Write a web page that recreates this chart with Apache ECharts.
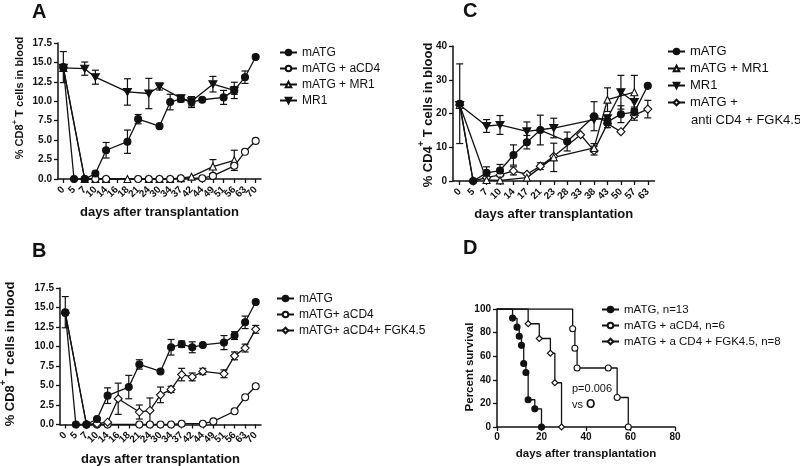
<!DOCTYPE html>
<html>
<head>
<meta charset="utf-8">
<title>T cells after transplantation</title>
<script src="https://cdn.jsdelivr.net/npm/echarts@6/dist/echarts.min.js"></script>
<style>
html, body { margin: 0; padding: 0; background: #fff; }
#chart { width: 800px; height: 466px; }
</style>
</head>
<body>
<div id="chart"></div>
<script>
// A + B: CD8+ T cells, days share one axis
const daysAB = ['0', '5', '7', '10', '14', '16', '18', '21', '24', '30', '34', '37', '42', '44', '49', '51', '56', '63', '70'];
const cd8_mATG = [14.4, 0, 0, 0.7, 3.7, null, 4.8, 7.7, null, 6.8, 9.9, 10.3, 9.9, 10.2, null, 10.5, 11.4, 13.1, 15.7];
const cd8_mATG_err = [2.0, null, null, null, 1.0, null, 1.5, 0.6, null, null, 1.0, 0.4, 0.7, null, null, 0.9, 0.5, 0.8, null];
const cd8_aCD4 = [14.3, null, 0, 0, 0, null, null, 0, 0, 0, 0, 0.1, null, 0.1, 0.4, null, 1.7, 3.5, 4.9];
const cd8_mATG_MR1 = [14.3, null, 0, 0, 0, null, 0, null, 0, 0, 0, 0.1, 0.3, null, 1.6, null, 2.4, null, null];
const cd8_mATG_MR1_err = [null, null, null, null, null, null, null, null, null, null, null, null, null, null, 0.9, null, 1.3, null, null];
const cd8_MR1 = [14.3, null, 14.2, 13.1, null, null, 11.2, null, 11.0, 11.9, null, 10.4, 10.0, null, 12.2, null, 11.4, null, null];
const cd8_MR1_err = [null, null, 0.85, 0.9, null, null, 1.7, null, 1.95, 0.45, null, 0.4, 0.6, null, 1.0, null, 1.05, null, null];
const cd8_FGK = [14.3, null, 0, 0.1, 0.3, 3.3, null, 1.6, 1.8, 3.8, 4.5, 6.4, 6.1, 6.8, null, 6.5, 8.8, 9.8, 12.2];
const cd8_FGK_err = [null, null, null, null, null, 2.0, null, 0.9, 1.6, 1.0, 0.4, 0.8, 0.5, 0.4, null, 0.5, 0.5, 0.5, 0.5];

// C: CD4+ T cells
const daysC = ['0', '5', '7', '10', '14', '17', '21', '23', '28', '33', '38', '43', '50', '57', '63'];
const cd4_mATG = [22.9, 0, 2.4, 3.1, 7.7, 11.5, 15.1, null, 11.7, null, 19.2, 17.5, 19.8, 20.4, 28.2];
const cd4_mATG_err = [11.8, null, 1.8, 1.8, 3.0, 2.0, 4.4, null, 2.8, null, 4.3, 1.0, 2.5, 1.5, null];
const cd4_mATG_MR1 = [22.5, null, 0.3, 0.2, null, 1.0, null, 7.0, null, null, 9.8, 24.1, null, 26.3, null];
const cd4_mATG_MR1_err = [null, null, null, null, null, null, null, 4.2, null, null, 1.3, 3.5, null, 5.0, null];
const cd4_MR1 = [22.5, null, 16.3, 16.6, null, 14.7, null, 15.7, null, null, 18.2, 18.6, 26.3, 23.4, null];
const cd4_MR1_err = [null, null, 1.9, 2.8, null, 2.8, null, 2.9, null, null, null, null, 5.0, 2.0, null];
const cd4_FGK = [22.5, 0, 1.0, 1.8, 3.0, 2.0, 4.4, 7.3, null, 13.7, 9.0, 17.0, 14.6, 19.5, 21.3];
const cd4_FGK_err = [null, null, null, null, 1.2, null, 1.0, null, null, null, 1.3, 1.2, null, 1.5, 2.6];

// D: survival (Kaplan-Meier)
const km_mATG_days = [0, 7, 9, 10, 11, 12, 13, 14, 17, 20];
const km_mATG_pct = [100, 92.3, 84.6, 76.9, 69.2, 53.8, 46.2, 23.1, 15.4, 0];
const km_aCD4_days = [0, 34, 35, 36, 50, 54, 59];
const km_aCD4_pct = [100, 83.3, 66.7, 50, 50, 25, 0];
const km_FGK_days = [0, 14, 19, 24, 26, 29];
const km_FGK_pct = [100, 87.5, 75, 62.5, 37.5, 0];

const ink = '#111';
const font = '"Liberation Sans", Arial, sans-serif';

// [symbol, size, fill]
const sym = {
  dot: ['circle', 7, ink],
  ring: ['circle', 7, '#fff'],
  tri: ['triangle', 7, '#fff'],
  down: ['path://M0,0L10,0L5,9Z', [8, 7], ink],
  dia: ['diamond', 8, '#fff']
};

function line(name, g, data, s) {
  return {
    name, type: 'line', xAxisIndex: g, yAxisIndex: g, data,
    connectNulls: true, symbol: s[0], symbolSize: s[1],
    lineStyle: { color: ink, width: 1.3 },
    itemStyle: { color: s[2], borderColor: ink, borderWidth: 1.1 },
    emphasis: { disabled: true }, z: 3
  };
}

function errBars(g, values, errs) {
  const data = [];
  values.forEach((v, i) => {
    if (v != null && errs[i] != null) data.push([i, v - errs[i], v + errs[i]]);
  });
  return {
    type: 'custom', xAxisIndex: g, yAxisIndex: g, data, z: 2, silent: true,
    renderItem: (params, api) => {
      const lo = api.coord([api.value(0), api.value(1)]);
      const hi = api.coord([api.value(0), api.value(2)]);
      const w = 3.5;
      const style = { stroke: ink, lineWidth: 1.2 };
      return {
        type: 'group', children: [
          { type: 'line', shape: { x1: hi[0], y1: hi[1], x2: lo[0], y2: lo[1] }, style },
          { type: 'line', shape: { x1: hi[0] - w, y1: hi[1], x2: hi[0] + w, y2: hi[1] }, style },
          { type: 'line', shape: { x1: lo[0] - w, y1: lo[1], x2: lo[0] + w, y2: lo[1] }, style }
        ]
      };
    }
  };
}

function km(name, days, pct, s) {
  const data = days.map((d, i) => i === 0 ? { value: [d, pct[i]], symbol: 'none' } : [d, pct[i]]);
  const ser = line(name, 3, data, s);
  ser.step = 'end';
  ser.symbolSize = 6;
  return ser;
}

const axisLine = { show: true, lineStyle: { color: ink, width: 1.5 } };
const axisTick = { show: true, length: 4, lineStyle: { color: ink, width: 1.3 } };
const tickFont = { fontSize: 10, fontWeight: 'bold', color: ink, fontFamily: font };

function catAxis(g, cats, gap) {
  return {
    type: 'category', gridIndex: g, data: cats, boundaryGap: true,
    name: 'days after transplantation', nameLocation: 'middle', nameGap: gap,
    nameTextStyle: { fontSize: 13, fontWeight: 'bold', color: ink, fontFamily: font },
    axisLine, axisTick: Object.assign({ alignWithLabel: true, interval: 0 }, axisTick),
    axisLabel: Object.assign({ interval: 0, rotate: 45, margin: 9 }, tickFont),
    splitLine: { show: false }
  };
}

function valAxis(g, max, step, dec) {
  return {
    type: 'value', gridIndex: g, min: 0, max, interval: step,
    axisLine, axisTick,
    axisLabel: Object.assign({ margin: 6, formatter: v => v.toFixed(dec) }, tickFont),
    splitLine: { show: false }
  };
}

function yTitle(x, y, text, size) {
  return {
    type: 'text', x, y, rotation: Math.PI / 2,
    style: {
      text, align: 'center', verticalAlign: 'middle',
      rich: {
        t: { fontSize: size, fontWeight: 'bold', fontFamily: font, fill: ink, lineHeight: size + 4, verticalAlign: 'bottom' },
        s: { fontSize: Math.round(size * 0.7), fontWeight: 'bold', fontFamily: font, fill: ink, lineHeight: size + 4, verticalAlign: 'top' }
      }
    }
  };
}

function label(x, y, text, size, weight) {
  return { type: 'text', x, y, style: { text, fontSize: size, fontWeight: weight || 'normal', fontFamily: font, fill: ink } };
}

const legendBase = {
  orient: 'vertical', padding: 0, itemWidth: 17, itemHeight: 7, itemGap: 3,
  selectedMode: false, textStyle: { fontSize: 12, color: ink, fontFamily: font, lineHeight: 13 }
};

const chart = echarts.init(document.getElementById('chart'));
chart.setOption({
  animation: false,
  backgroundColor: '#fff',
  grid: [
    { left: 58, top: 43, width: 203, height: 136, outerBoundsMode: 'none' },
    { left: 60, top: 288, width: 201, height: 136.5, outerBoundsMode: 'none' },
    { left: 453, top: 46, width: 201.5, height: 135, outerBoundsMode: 'none' },
    { left: 497, top: 309, width: 178, height: 118, outerBoundsMode: 'none' }
  ],
  xAxis: [
    catAxis(0, daysAB, 27),
    catAxis(1, daysAB, 28),
    catAxis(2, daysC, 27),
    {
      type: 'value', gridIndex: 3, min: 0, max: 80, interval: 20,
      name: 'days after transplantation', nameLocation: 'middle', nameGap: 21,
      nameTextStyle: { fontSize: 11.5, fontWeight: 'bold', color: ink, fontFamily: font },
      axisLine, axisTick, axisLabel: Object.assign({ margin: 5 }, tickFont), splitLine: { show: false }
    }
  ],
  yAxis: [
    valAxis(0, 17.5, 2.5, 1),
    valAxis(1, 17.5, 2.5, 1),
    valAxis(2, 40, 10, 0),
    valAxis(3, 100, 20, 0)
  ],
  legend: [
    Object.assign({ left: 279, top: 46, data: ['mATG', 'mATG + aCD4', 'mATG + MR1', 'MR1'] }, legendBase),
    Object.assign({ left: 276, top: 292, data: ['mATG', 'mATG+ aCD4', 'mATG+ aCD4+ FGK4.5'] }, legendBase),
    Object.assign({}, legendBase, {
      left: 667, top: 45, itemGap: 4, data: ['mATG', 'mATG + MR1', 'MR1', 'mATG + anti CD4 + FGK4.5'],
      formatter: n => n === 'mATG + anti CD4 + FGK4.5' ? 'mATG +' : n,
      textStyle: { fontSize: 13, color: ink, fontFamily: font, lineHeight: 13 }
    }),
    Object.assign({}, legendBase, {
      left: 601, top: 303, data: ['mATG, n=13', 'mATG + aCD4, n=6', 'mATG + a CD4 + FGK4.5, n=8'],
      textStyle: { fontSize: 11.5, color: ink, fontFamily: font, lineHeight: 13 }
    })
  ],
  graphic: [
    label(32, 2, 'A', 20, 'bold'),
    label(32, 241, 'B', 20, 'bold'),
    label(463, 1, 'C', 20, 'bold'),
    label(463, 238, 'D', 20, 'bold'),
    yTitle(18, 98, '{t|% CD8}{s|+}{t| T cells in blood}', 11),
    yTitle(8, 354, '{t|% CD8}{s|+}{t| T cells in blood}', 13),
    yTitle(426, 115, '{t|% CD4}{s|+}{t| T cells in blood}', 13),
    yTitle(468, 367, '{t|Percent survival}', 11.5),
    label(691, 114, 'anti CD4 + FGK4.5', 13),
    label(572, 383, 'p=0.006', 11),
    {
      type: 'text', x: 572, y: 399,
      style: {
        text: '{n|vs }{b|O}',
        rich: {
          n: { fontSize: 11, fontFamily: font, fill: ink },
          b: { fontSize: 12, fontWeight: 'bold', fontFamily: font, fill: ink }
        }
      }
    }
  ],
  series: [
    // A
    errBars(0, cd8_mATG, cd8_mATG_err),
    errBars(0, cd8_MR1, cd8_MR1_err),
    errBars(0, cd8_mATG_MR1, cd8_mATG_MR1_err),
    line('mATG + MR1', 0, cd8_mATG_MR1, sym.tri),
    line('mATG + aCD4', 0, cd8_aCD4, sym.ring),
    line('MR1', 0, cd8_MR1, sym.down),
    line('mATG', 0, cd8_mATG, sym.dot),
    // B
    errBars(1, cd8_mATG, cd8_mATG_err),
    errBars(1, cd8_FGK, cd8_FGK_err),
    line('mATG+ aCD4', 1, cd8_aCD4, sym.ring),
    line('mATG+ aCD4+ FGK4.5', 1, cd8_FGK, sym.dia),
    line('mATG', 1, cd8_mATG, sym.dot),
    // C
    errBars(2, cd4_mATG, cd4_mATG_err),
    errBars(2, cd4_mATG_MR1, cd4_mATG_MR1_err),
    errBars(2, cd4_MR1, cd4_MR1_err),
    errBars(2, cd4_FGK, cd4_FGK_err),
    line('mATG + anti CD4 + FGK4.5', 2, cd4_FGK, sym.dia),
    line('mATG + MR1', 2, cd4_mATG_MR1, sym.tri),
    line('MR1', 2, cd4_MR1, sym.down),
    line('mATG', 2, cd4_mATG, sym.dot),
    // D
    km('mATG + a CD4 + FGK4.5, n=8', km_FGK_days, km_FGK_pct, sym.dia),
    km('mATG + aCD4, n=6', km_aCD4_days, km_aCD4_pct, sym.ring),
    km('mATG, n=13', km_mATG_days, km_mATG_pct, sym.dot)
  ]
});
</script>
</body>
</html>
